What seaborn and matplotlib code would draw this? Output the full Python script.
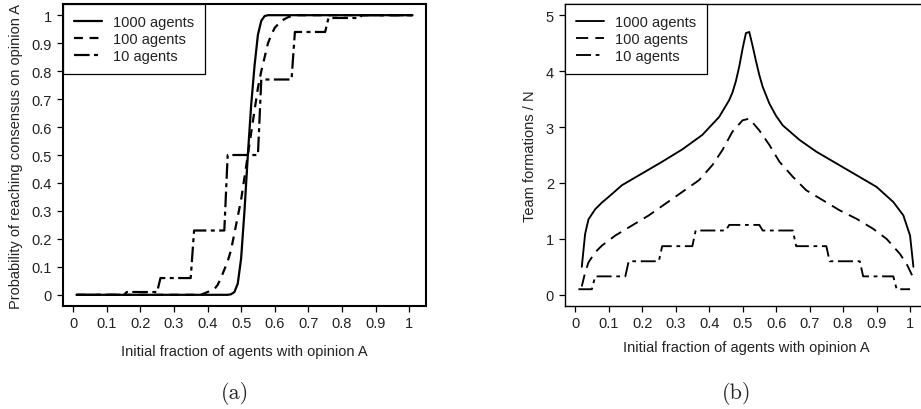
import numpy as np
import pandas as pd
import matplotlib
matplotlib.use("Agg")
import matplotlib.pyplot as plt
import seaborn as sns

# --- data ---
series = ["1000 agents", "100 agents", "10 agents"]

# (a) probability of consensus on A
a_x_1000 = [0.01, 0.46, 0.47, 0.48, 0.49, 0.50, 0.51, 0.52, 0.53, 0.54, 0.55, 0.56, 0.57, 0.58, 1.01]
a_y_1000 = [0.0, 0.0, 0.002, 0.01, 0.04, 0.13, 0.30, 0.50, 0.68, 0.82, 0.93, 0.98, 0.997, 1.0, 1.0]

a_x_100 = [0.01, 0.38, 0.40, 0.42, 0.43, 0.44, 0.45, 0.46, 0.47, 0.48, 0.49, 0.50, 0.51, 0.52,
           0.53, 0.54, 0.55, 0.56, 0.57, 0.58, 0.59, 0.60, 0.62, 0.64, 0.66, 1.01]
a_y_100 = [0.0, 0.0, 0.01, 0.02, 0.035, 0.06, 0.09, 0.12, 0.16, 0.22, 0.28, 0.34, 0.42, 0.50,
           0.58, 0.66, 0.74, 0.80, 0.85, 0.90, 0.93, 0.955, 0.98, 0.993, 1.0, 1.0]

a_x_10 = [0.01, 0.15, 0.16, 0.25, 0.26, 0.35, 0.36, 0.45, 0.46, 0.55, 0.56, 0.65, 0.66, 0.75,
          0.76, 0.85, 0.86, 1.01]
a_y_10 = [0.0, 0.0, 0.01, 0.01, 0.06, 0.06, 0.23, 0.23, 0.50, 0.50, 0.77, 0.77, 0.94, 0.94,
          0.99, 0.99, 1.0, 1.0]

# (b) team formations / N
b_x_1000 = [0.02, 0.03, 0.04, 0.06, 0.08, 0.10, 0.14, 0.20, 0.26, 0.32, 0.38, 0.43, 0.46, 0.47,
            0.48, 0.49, 0.50, 0.51, 0.52, 0.53, 0.54, 0.55, 0.56, 0.58, 0.60, 0.62, 0.67, 0.72,
            0.78, 0.84, 0.90, 0.95, 0.98, 1.00, 1.01]
b_y_1000 = [0.50, 1.09, 1.35, 1.53, 1.65, 1.75, 1.96, 2.17, 2.38, 2.60, 2.86, 3.18, 3.48, 3.62,
            3.82, 4.08, 4.40, 4.68, 4.70, 4.45, 4.18, 3.93, 3.72, 3.42, 3.20, 3.03, 2.77, 2.56,
            2.35, 2.14, 1.93, 1.66, 1.42, 1.06, 0.50]

b_x_100 = [0.02, 0.03, 0.04, 0.06, 0.08, 0.10, 0.12, 0.17, 0.22, 0.27, 0.32, 0.37, 0.41, 0.44,
           0.47, 0.50, 0.52, 0.55, 0.58, 0.61, 0.65, 0.69, 0.74, 0.79, 0.84, 0.89, 0.93, 0.97,
           0.99, 1.01]
b_y_100 = [0.15, 0.40, 0.58, 0.76, 0.88, 0.97, 1.06, 1.24, 1.42, 1.63, 1.84, 2.05, 2.32, 2.59,
           2.92, 3.12, 3.15, 2.94, 2.68, 2.38, 2.11, 1.87, 1.69, 1.51, 1.36, 1.18, 1.00, 0.73,
           0.55, 0.30]

b_x_10 = [0.01, 0.05, 0.06, 0.15, 0.16, 0.25, 0.26, 0.35, 0.36, 0.45, 0.46, 0.55, 0.56, 0.65,
          0.66, 0.75, 0.76, 0.85, 0.86, 0.95, 0.96, 1.00]
b_y_10 = [0.10, 0.10, 0.33, 0.33, 0.60, 0.60, 0.87, 0.87, 1.15, 1.15, 1.25, 1.25, 1.15, 1.15,
          0.87, 0.87, 0.60, 0.60, 0.33, 0.33, 0.10, 0.10]

x_ticks = [0, 0.1, 0.2, 0.3, 0.4, 0.5, 0.6, 0.7, 0.8, 0.9, 1]
x_tick_labels = ["0", "0.1", "0.2", "0.3", "0.4", "0.5", "0.6", "0.7", "0.8", "0.9", "1"]
a_y_ticks = x_ticks
a_y_tick_labels = x_tick_labels
b_y_ticks = [0, 1, 2, 3, 4, 5]
b_y_tick_labels = ["0", "1", "2", "3", "4", "5"]

xlabel = "Initial fraction of agents with opinion A"
a_ylabel = "Probability of reaching consensus on opinion A"
b_ylabel = "Team formations / N"


def long_df(xs, ys):
    parts = []
    for name, x, y in zip(series, xs, ys):
        parts.append(pd.DataFrame({"x": x, "y": y, "agents": name}))
    return pd.concat(parts, ignore_index=True)


df_a = long_df([a_x_1000, a_x_100, a_x_10], [a_y_1000, a_y_100, a_y_10])
df_b = long_df([b_x_1000, b_x_100, b_x_10], [b_y_1000, b_y_100, b_y_10])

sns.set_theme(style="white")
plt.rcParams["font.family"] = ["Liberation Sans", "DejaVu Sans"]
text_col = "#222222"
fs = 10.5

fig = plt.figure(figsize=(9.21, 4.10), dpi=100)
ax_a = fig.add_axes([0.0684, 0.2512, 0.3941, 0.7366])
ax_b = fig.add_axes([0.6135, 0.2512, 0.3928, 0.7366])


def draw(ax, df, lw, dashes, frame_lw, ylim, yticks, yticklabels, ylabel, xlabelpad):
    sns.lineplot(data=df, x="x", y="y", style="agents", style_order=series,
                 dashes=dashes, color="black", linewidth=lw, estimator=None,
                 sort=False, legend=False, ax=ax)
    ax.set_xlim(-0.03, 1.05)
    ax.set_ylim(*ylim)
    ax.set_xticks(x_ticks)
    ax.set_xticklabels(x_tick_labels)
    ax.set_yticks(yticks)
    ax.set_yticklabels(yticklabels)
    ax.tick_params(axis="both", direction="out", length=4, width=0.9, color="black",
                   labelsize=fs, labelcolor=text_col, bottom=True, left=True)
    ax.tick_params(axis="x", pad=3.5)
    ax.tick_params(axis="y", pad=4)
    for sp in ax.spines.values():
        sp.set_visible(True)
        sp.set_color("black")
        sp.set_linewidth(frame_lw)
    ax.set_xlabel(xlabel, fontsize=fs, color=text_col, labelpad=xlabelpad)
    ax.set_ylabel(ylabel, fontsize=fs, color=text_col, labelpad=6)
    leg = ax.legend(handles=ax.lines[:3], labels=series, loc="upper left",
                    borderaxespad=0, fancybox=False, frameon=True, fontsize=fs,
                    handlelength=1.9, handletextpad=0.8, labelspacing=0.2,
                    borderpad=0.75, framealpha=1)
    leg.get_frame().set_edgecolor("black")
    leg.get_frame().set_linewidth(0.9)
    for t in leg.get_texts():
        t.set_color(text_col)


draw(ax_a, df_a, 1.6, {"1000 agents": "", "100 agents": (4, 3), "10 agents": (7, 2, 1.8, 2)},
     1.5, (-0.04, 1.04), a_y_ticks, a_y_tick_labels, a_ylabel, 10)
draw(ax_b, df_b, 1.35, {"1000 agents": "", "100 agents": (6.5, 3.8), "10 agents": (8, 2.5, 2, 2.5)},
     1.0, (-0.2, 5.2), b_y_ticks, b_y_tick_labels, b_ylabel, 7)

fig.text(0.255, 0.04, "(a)", family="cmr10", fontsize=16, ha="center", va="center")
fig.text(0.800, 0.04, "(b)", family="cmr10", fontsize=16, ha="center", va="center")

fig.savefig("out.png", dpi=100)
